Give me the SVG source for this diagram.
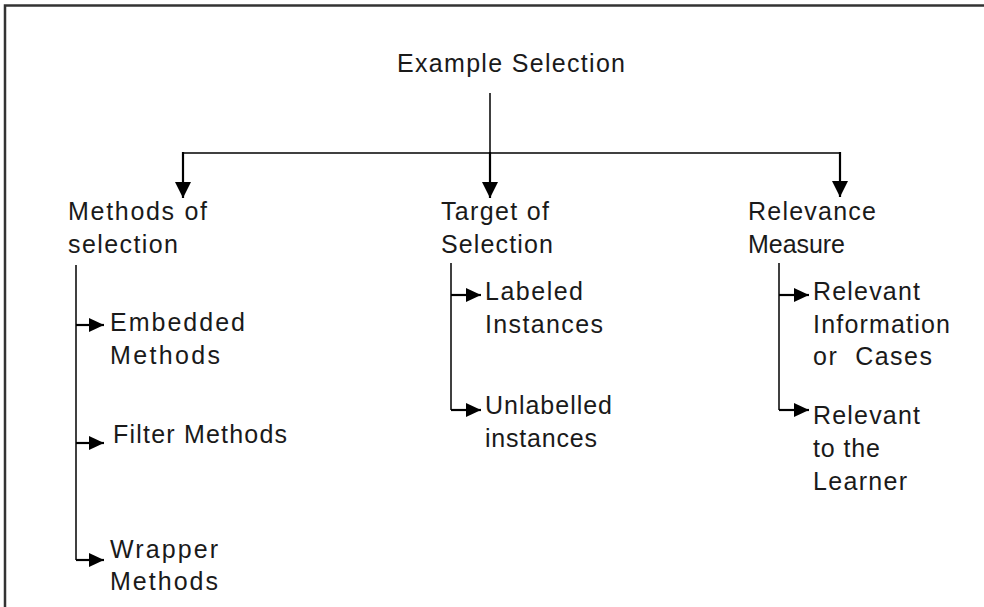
<svg xmlns="http://www.w3.org/2000/svg" width="984" height="607" viewBox="0 0 984 607">
<defs>
<style>
text{font-family:"Liberation Sans",Arial,sans-serif;font-size:25px;fill:#1a1a1a}
.ln{stroke:#000;stroke-width:1.5;fill:none}
.thick{stroke:#000;stroke-width:2.2;fill:none}
.frame{stroke:#333;stroke-width:2.5;fill:none}
</style>
<marker id="ad" markerUnits="userSpaceOnUse" markerWidth="16" markerHeight="17" refX="16" refY="8" orient="auto">
<path d="M0,0 L16,8 L0,16 z" fill="#000"/>
</marker>
<marker id="ah" markerUnits="userSpaceOnUse" markerWidth="15" markerHeight="15" refX="15" refY="7" orient="auto">
<path d="M0,0 L15,7 L0,14 z" fill="#000"/>
</marker>
</defs>
<rect width="984" height="607" fill="#fff"/>
<path class="frame" d="M5,607 V5.5 H984"/>
<g id="connectors">
<path class="ln" d="M490,93 V153"/>
<path class="ln" d="M183,153 H840"/>
<path class="thick" d="M183,152 V198" marker-end="url(#ad)"/>
<path class="thick" d="M490,152 V198" marker-end="url(#ad)"/>
<path class="thick" d="M840,152 V197" marker-end="url(#ad)"/>
<path class="ln" d="M76,265 V560"/>
<path class="thick" d="M76,325 H104" marker-end="url(#ah)"/>
<path class="thick" d="M76,443 H104" marker-end="url(#ah)"/>
<path class="thick" d="M76,560 H104" marker-end="url(#ah)"/>
<path class="ln" d="M451,263 V410"/>
<path class="thick" d="M451,295 H481" marker-end="url(#ah)"/>
<path class="thick" d="M451,410 H481" marker-end="url(#ah)"/>
<path class="ln" d="M779,263 V410"/>
<path class="thick" d="M779,295 H809" marker-end="url(#ah)"/>
<path class="thick" d="M779,410 H809" marker-end="url(#ah)"/>
</g>
<g id="root"><text x="397" y="72" textLength="228" lengthAdjust="spacing">Example Selection</text></g>
<g id="methods">
<text x="68" y="220" textLength="139" lengthAdjust="spacing">Methods of</text>
<text x="68" y="253" textLength="110" lengthAdjust="spacing">selection</text>
</g>
<g id="target">
<text x="441" y="220" textLength="108" lengthAdjust="spacing">Target of</text>
<text x="441" y="253" textLength="112" lengthAdjust="spacing">Selection</text>
</g>
<g id="relevance">
<text x="748" y="220" textLength="128" lengthAdjust="spacing">Relevance</text>
<text x="748" y="253" textLength="97" lengthAdjust="spacing">Measure</text>
</g>
<g id="embedded">
<text x="110" y="331" textLength="135" lengthAdjust="spacing">Embedded</text>
<text x="110" y="364" textLength="110" lengthAdjust="spacing">Methods</text>
</g>
<g id="filter"><text x="113" y="443" textLength="174" lengthAdjust="spacing">Filter Methods</text></g>
<g id="wrapper">
<text x="110" y="558" textLength="108" lengthAdjust="spacing">Wrapper</text>
<text x="110" y="590" textLength="108" lengthAdjust="spacing">Methods</text>
</g>
<g id="labeled">
<text x="485" y="300" textLength="98" lengthAdjust="spacing">Labeled</text>
<text x="485" y="333" textLength="118" lengthAdjust="spacing">Instances</text>
</g>
<g id="unlabelled">
<text x="485" y="414" textLength="127" lengthAdjust="spacing">Unlabelled</text>
<text x="485" y="447" textLength="112" lengthAdjust="spacing">instances</text>
</g>
<g id="relinfo">
<text x="813" y="300" textLength="107" lengthAdjust="spacing">Relevant</text>
<text x="813" y="333" textLength="137" lengthAdjust="spacing">Information</text>
<text x="813" y="365" textLength="119" lengthAdjust="spacing" xml:space="preserve">or  Cases</text>
</g>
<g id="rellearner">
<text x="813" y="424" textLength="107" lengthAdjust="spacing">Relevant</text>
<text x="813" y="457" textLength="67" lengthAdjust="spacing">to the</text>
<text x="813" y="490" textLength="94" lengthAdjust="spacing">Learner</text>
</g>
</svg>
